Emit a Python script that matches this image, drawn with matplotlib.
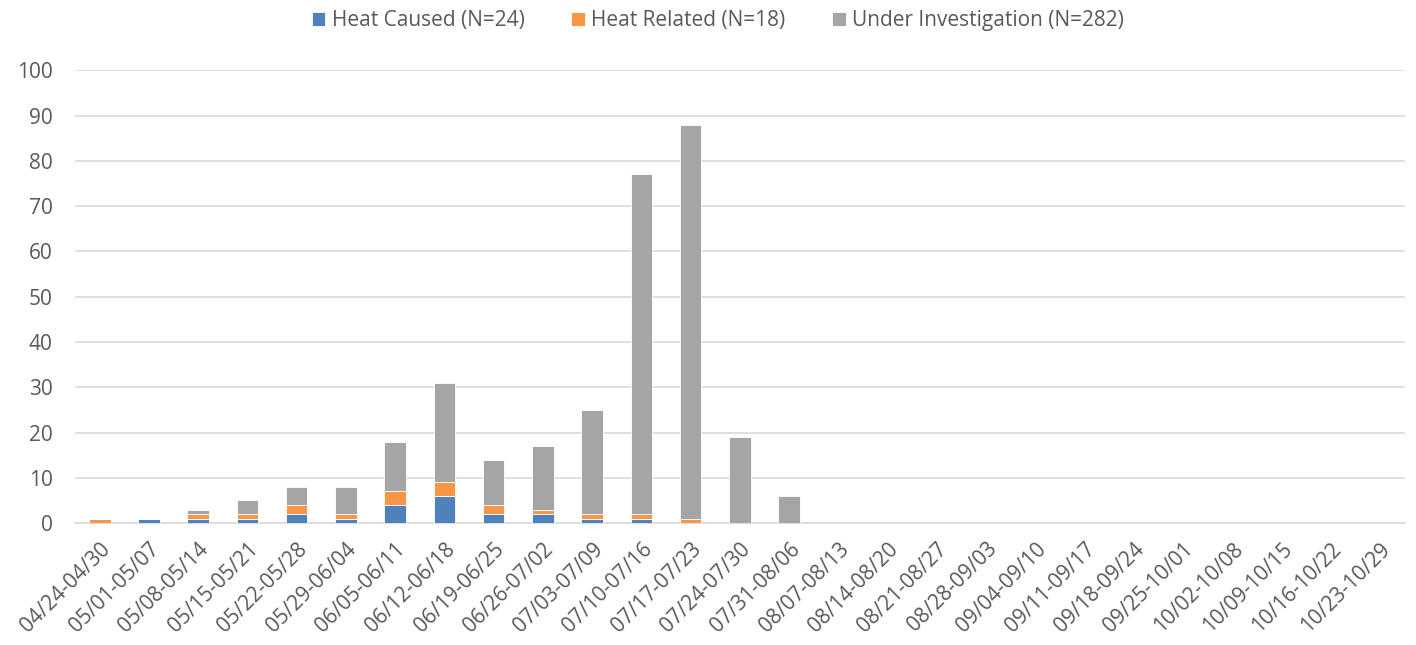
import numpy as np
import matplotlib
matplotlib.use("Agg")
import matplotlib.pyplot as plt

# weekly counts
weeks = ["04/24-04/30", "05/01-05/07", "05/08-05/14", "05/15-05/21", "05/22-05/28",
         "05/29-06/04", "06/05-06/11", "06/12-06/18", "06/19-06/25", "06/26-07/02",
         "07/03-07/09", "07/10-07/16", "07/17-07/23", "07/24-07/30", "07/31-08/06",
         "08/07-08/13", "08/14-08/20", "08/21-08/27", "08/28-09/03", "09/04-09/10",
         "09/11-09/17", "09/18-09/24", "09/25-10/01", "10/02-10/08", "10/09-10/15",
         "10/16-10/22", "10/23-10/29"]
heat_caused = [0, 1, 1, 1, 2, 1, 4, 6, 2, 2, 1, 1, 0, 0, 0] + [0] * 12
heat_related = [1, 0, 1, 1, 2, 1, 3, 3, 2, 1, 1, 1, 1, 0, 0] + [0] * 12
under_inv = [0, 0, 1, 3, 4, 6, 11, 22, 10, 14, 23, 75, 87, 19, 6] + [0] * 12

plt.rcParams['font.family'] = ['Open Sans', 'DejaVu Sans']
txt = '#595959'

fig = plt.figure(figsize=(14.16, 6.45), dpi=100)
ax = fig.add_axes([0.053, 0.189, 0.939, 0.702])

x = np.arange(len(weeks))
hc = np.array(heat_caused)
hr = np.array(heat_related)
ui = np.array(under_inv)
w = 0.44
ax.bar(x, hc, w, color='#4F81BD', edgecolor='white', linewidth=0.6,
       label='Heat Caused (N=24)', zorder=3)
ax.bar(x, hr, w, bottom=hc, color='#F79646', edgecolor='white', linewidth=0.6,
       label='Heat Related (N=18)', zorder=3)
ax.bar(x, ui, w, bottom=hc + hr, color='#A5A5A5', edgecolor='white', linewidth=0.6,
       label='Under Investigation (N=282)', zorder=3)

ax.set_ylim(0, 100)
ax.set_xlim(-0.5, len(weeks) - 0.5)
ax.set_yticks(range(0, 101, 10))
ax.yaxis.grid(True, color='#D9D9D9', linewidth=1.2, zorder=0)
ax.set_axisbelow(True)
for s in ['left', 'right', 'top']:
    ax.spines[s].set_visible(False)
ax.spines['bottom'].set_color('#D9D9D9')
ax.spines['bottom'].set_linewidth(1.2)
ax.tick_params(axis='y', length=0, labelsize=15, labelcolor=txt, pad=16)
ax.tick_params(axis='x', length=0, labelsize=15, labelcolor=txt, pad=11)
ax.set_xticks(x)
ax.set_xticklabels(weeks, rotation=45, ha='right', rotation_mode='anchor')

fig.legend(loc='upper center', bbox_to_anchor=(0.507, 1.0), ncol=3, frameon=False,
           fontsize=15, labelcolor=txt, handlelength=0.65, handleheight=0.65,
           handletextpad=0.3, columnspacing=2.25, borderaxespad=0.1)

fig.savefig('out.png', dpi=100)
